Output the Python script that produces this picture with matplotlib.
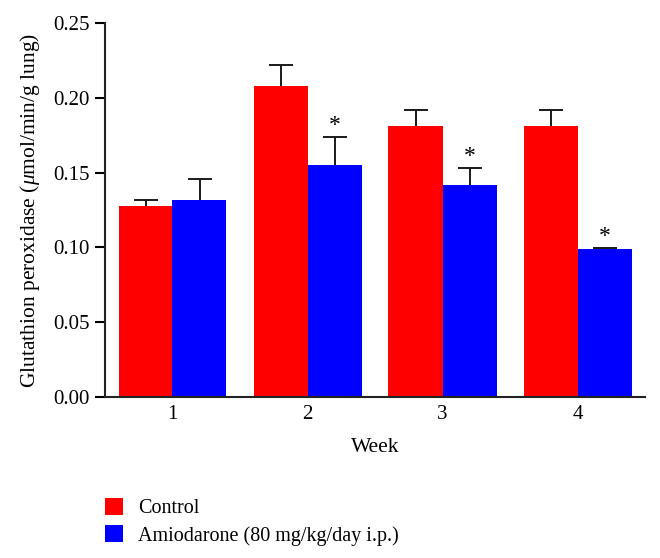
import matplotlib
matplotlib.use("Agg")
import matplotlib.pyplot as plt
import numpy as np
from matplotlib.patches import Patch

weeks = ["1", "2", "3", "4"]
control = [0.128, 0.208, 0.181, 0.181]
control_err = [0.004, 0.014, 0.011, 0.011]
amio = [0.132, 0.155, 0.142, 0.099]
amio_err = [0.014, 0.019, 0.011, 0.0008]
signif = [False, True, True, True]

plt.rcParams['font.family'] = ['Liberation Serif', 'DejaVu Serif']
plt.rcParams['mathtext.fontset'] = 'custom'
plt.rcParams['mathtext.it'] = 'Liberation Serif:italic'
plt.rcParams['mathtext.rm'] = 'Liberation Serif'

fig = plt.figure(figsize=(6.6, 5.58), dpi=100)
ax = fig.add_axes([105/660, (558-397)/558, 540/660, 374/558])

x = np.arange(1, len(weeks) + 1)
w = 0.4
ekw = dict(fmt='none', elinewidth=1.4, capthick=1.4, ecolor='#1a1a1a', capsize=8.5, zorder=1)
ax.bar(x - w/2, control, width=w, color='#ff0000', zorder=2)
ax.bar(x + w/2, amio, width=w, color='#0000ff', zorder=2)
ax.errorbar(x - w/2, control, yerr=control_err, **ekw)
ax.errorbar(x + w/2, amio, yerr=amio_err, **ekw)

for xi, v, e, s in zip(x, amio, amio_err, signif):
    if s:
        ax.text(xi + w/2, v + e + 0.0005, "*", ha='center', va='bottom', fontsize=17)

ax.set_xlim(0.5, 4.5)
ax.set_ylim(0, 0.25)
ax.set_yticks([0, 0.05, 0.10, 0.15, 0.20, 0.25])
ax.set_yticklabels(["0.00", "0.05", "0.10", "0.15", "0.20", "0.25"])
ax.set_xticks(x)
ax.set_xticklabels(weeks)
ax.tick_params(axis='y', length=7, width=1.5, labelsize=15, pad=4)
ax.tick_params(axis='x', length=0, labelsize=15, pad=6)
for sp in ['top', 'right']:
    ax.spines[sp].set_visible(False)
for sp in ['left', 'bottom']:
    ax.spines[sp].set_linewidth(1.5)
    ax.spines[sp].set_color('#222222')

ax.set_xlabel("Week", fontsize=15.5, labelpad=10)
ax.set_ylabel(r"Glutathion peroxidase ($\mu$mol/min/g lung)", fontsize=15.5, labelpad=8)

handles = [Patch(facecolor='#ff0000', edgecolor='none'),
           Patch(facecolor='#0000ff', edgecolor='none')]
fig.legend(handles, ["Control", "Amiodarone (80 mg/kg/day i.p.)"],
           loc='upper left', bbox_to_anchor=(97/660, 1 - 490/558),
           frameon=False, fontsize=14.5, handlelength=0.9, handleheight=0.9,
           handletextpad=0.75, labelspacing=0.35, borderaxespad=0)

fig.savefig("out.png", dpi=100)
